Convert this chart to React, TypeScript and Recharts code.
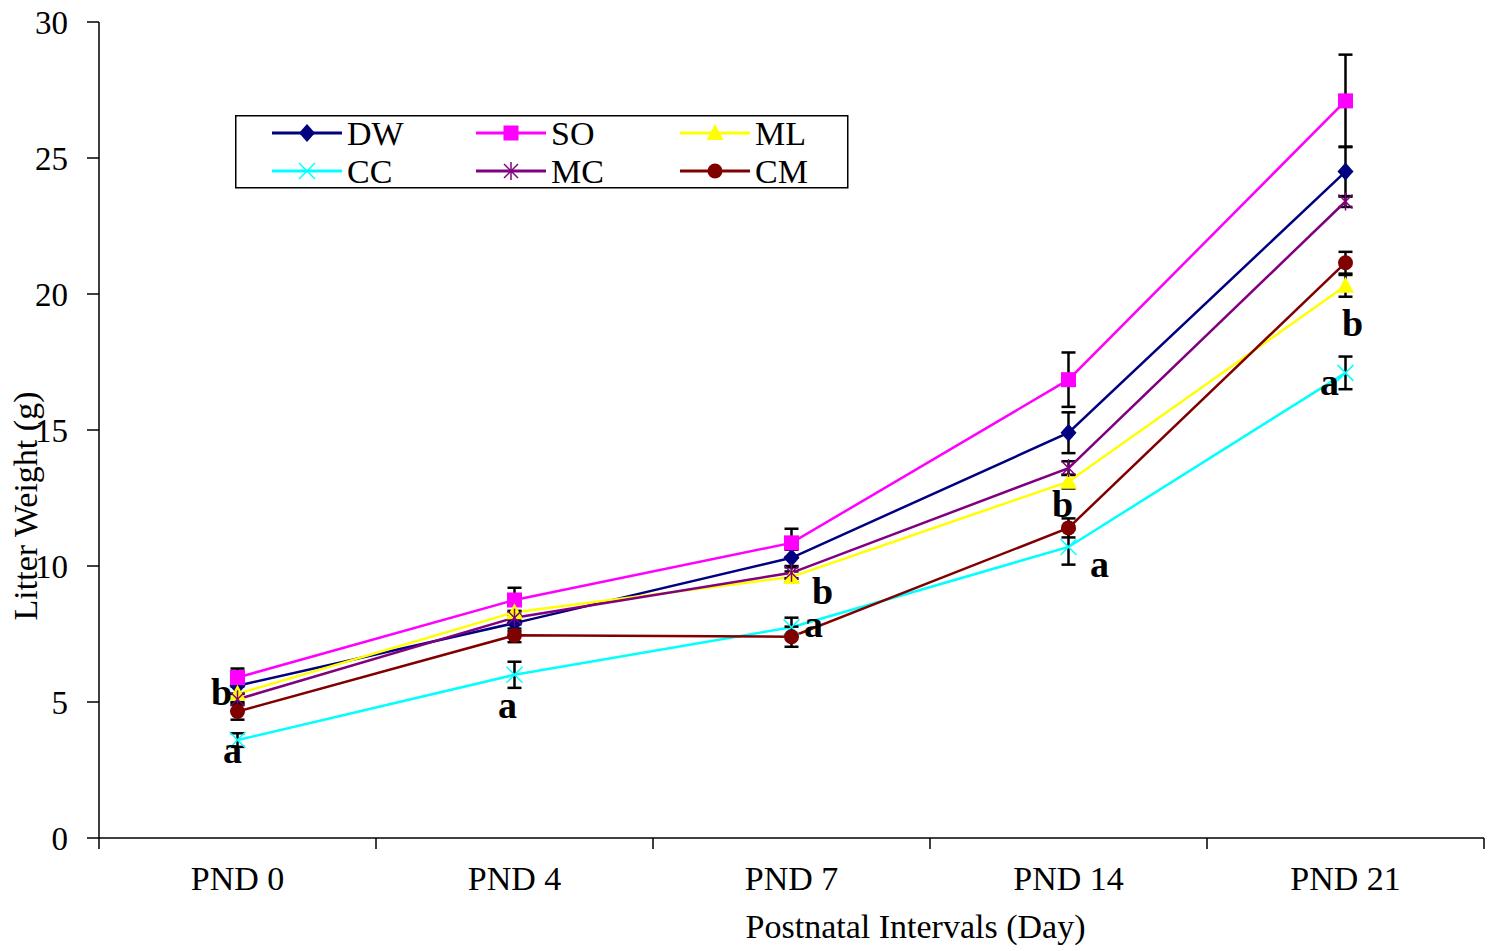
import { ErrorBar, LabelList, Legend, Line, LineChart, XAxis, YAxis } from "recharts";

const days = ["PND 0", "PND 4", "PND 7", "PND 14", "PND 21"];

// mean litter weight (g) per group
const dw = [5.6, 7.9, 10.3, 14.9, 24.5];
const so = [5.9, 8.75, 10.85, 16.85, 27.1];
const ml = [5.3, 8.3, 9.6, 13.1, 20.3];
const cc = [3.6, 6.0, 7.75, 10.7, 17.1];
const mc = [5.1, 8.1, 9.75, 13.6, 23.4];
const cm = [4.65, 7.45, 7.4, 11.4, 21.15];

// standard error per group
const dwErr = [0.3, 0.3, 0.3, 0.75, 0.92];
const soErr = [0.33, 0.45, 0.52, 1.0, 1.7];
const mlErr = [0.3, 0.3, 0.2, 0.25, 0.4];
const ccErr = [0.25, 0.48, 0.35, 0.65, 0.6];
const mcErr = [0.2, 0.25, 0.2, 0.25, 0.2];
const cmErr = [0.3, 0.25, 0.37, 0.35, 0.4];

// significance letters
const mlLetters = ["b", "", "b", "b", "b"];
const ccLetters = ["a", "a", "a", "a", "a"];

const yTicks = [0, 5, 10, 15, 20, 25, 30];
const xTicks = [0, 0.5, 1, 1.5, 2, 2.5, 3, 3.5, 4, 4.5, 5];

const rows = days.map((day, i) => ({
    pos: i + 0.5,
    day,
    DW: dw[i], SO: so[i], ML: ml[i], CC: cc[i], MC: mc[i], CM: cm[i],
    DWErr: dwErr[i], SOErr: soErr[i], MLErr: mlErr[i],
    CCErr: ccErr[i], MCErr: mcErr[i], CMErr: cmErr[i],
    mlLetter: mlLetters[i], ccLetter: ccLetters[i],
}));

type Kind = "diamond" | "square" | "triangle" | "cross" | "star" | "circle";

const series: { key: string; color: string; kind: Kind }[] = [
    { key: "DW", color: "#000080", kind: "diamond" },
    { key: "SO", color: "#FF00FF", kind: "square" },
    { key: "ML", color: "#FFFF00", kind: "triangle" },
    { key: "CC", color: "#00FFFF", kind: "cross" },
    { key: "MC", color: "#800080", kind: "star" },
    { key: "CM", color: "#800000", kind: "circle" },
];

const serif = '"Liberation Serif", "Times New Roman", serif';

// letter placement relative to the point (dx, baseline dy)
const mlLetterShift = [[-16, 11], [0, 0], [31, 27], [-6, 35], [7, 50]];
const ccLetterShift = [[-5, 23], [-7, 43], [22, 10], [31, 30], [-16, 22]];

const Marker = ({ kind, cx, cy, color }: { kind: Kind; cx: number; cy: number; color: string }) => {
    switch (kind) {
        case "diamond":
            return <polygon points={`${cx},${cy - 9} ${cx + 8},${cy} ${cx},${cy + 9} ${cx - 8},${cy}`} fill={color} />;
        case "square":
            return <rect x={cx - 7.5} y={cy - 7.5} width={15} height={15} fill={color} />;
        case "triangle":
            return <polygon points={`${cx},${cy - 9} ${cx + 8.5},${cy + 7} ${cx - 8.5},${cy + 7}`} fill={color} />;
        case "cross":
            return (
                <g stroke={color} strokeWidth={1.5}>
                    <line x1={cx - 8} y1={cy - 8} x2={cx + 8} y2={cy + 8} />
                    <line x1={cx - 8} y1={cy + 8} x2={cx + 8} y2={cy - 8} />
                </g>
            );
        case "star":
            return (
                <g stroke={color} strokeWidth={1.5}>
                    <line x1={cx - 7} y1={cy - 7} x2={cx + 7} y2={cy + 7} />
                    <line x1={cx - 7} y1={cy + 7} x2={cx + 7} y2={cy - 7} />
                    <line x1={cx} y1={cy - 9} x2={cx} y2={cy + 9} />
                </g>
            );
        default:
            return <circle cx={cx} cy={cy} r={7.5} fill={color} />;
    }
};

const DayTick = (props: any) => {
    const { x, y, payload } = props;
    const v = payload.value as number;
    if (Number.isInteger(v)) {
        return <line x1={x} x2={x} y1={y} y2={y + 11} stroke="#000" strokeWidth={1.5} />;
    }
    return (
        <text x={x} y={y + 52} textAnchor="middle" fontSize={34} fontFamily={serif} fill="#000">
            {days[Math.floor(v)]}
        </text>
    );
};

const letterContent = (shift: number[][]) => (props: any) => {
    const { x, y, value, index } = props;
    if (!value) return null;
    const [dx, dy] = shift[index] ?? [0, 0];
    return (
        <text x={x + dx} y={y + dy} textAnchor="middle" fontSize={38} fontWeight="bold" fontFamily={serif} fill="#000">
            {value}
        </text>
    );
};

const LegendBox = () => (
    <svg width={614} height={74}>
        <rect x={0.75} y={0.75} width={612} height={72} fill="#fff" stroke="#000" strokeWidth={1.5} />
        {series.map((s, i) => {
            const col = i % 3;
            const row = Math.floor(i / 3);
            const x0 = 37 + col * 204;
            const ly = 18 + row * 38;
            return (
                <g key={s.key}>
                    <line x1={x0} x2={x0 + 70} y1={ly} y2={ly} stroke={s.color} strokeWidth={3} />
                    <Marker kind={s.kind} cx={x0 + 35} cy={ly} color={s.color} />
                    <text x={x0 + 75} y={ly + 12} fontSize={34} fontFamily={serif} fill="#000">{s.key}</text>
                </g>
            );
        })}
    </svg>
);

export default function App() {
    return (
        <div style={{ position: "absolute", left: 0, top: 0, background: "#fff" }}>
            <LineChart width={1497} height={951} data={rows} margin={{ top: 22, right: 13, bottom: 0, left: 0 }}>
                <XAxis
                    dataKey="pos"
                    type="number"
                    domain={[0, 5]}
                    ticks={xTicks}
                    interval={0}
                    height={113}
                    tickSize={0}
                    tickMargin={0}
                    tickLine={false}
                    tick={<DayTick />}
                    axisLine={{ stroke: "#000", strokeWidth: 1.5 }}
                    label={{
                        content: (p: any) => {
                            const vb = p.viewBox;
                            return (
                                <text x={vb.x + vb.width / 2 + 124} y={vb.y + 100} textAnchor="middle" fontSize={34} fontFamily={serif} fill="#000">
                                    Postnatal Intervals (Day)
                                </text>
                            );
                        },
                    }}
                />
                <YAxis
                    type="number"
                    domain={[0, 30]}
                    ticks={yTicks}
                    interval={0}
                    width={99}
                    tickSize={12}
                    tickMargin={19}
                    tick={{ fontSize: 33, fontFamily: serif, fill: "#000" }}
                    tickLine={{ stroke: "#000", strokeWidth: 1.5 }}
                    axisLine={{ stroke: "#000", strokeWidth: 1.5 }}
                    label={{
                        content: (p: any) => {
                            const vb = p.viewBox;
                            const cy = vb.y + vb.height / 2 + 76;
                            return (
                                <text x={37} y={cy} transform={`rotate(-90, 37, ${cy})`} textAnchor="middle" fontSize={34} fontFamily={serif} fill="#000">
                                    Litter Weight (g)
                                </text>
                            );
                        },
                    }}
                />
                <Legend
                    layout="vertical"
                    align="center"
                    verticalAlign="middle"
                    width={614}
                    height={74}
                    wrapperStyle={{ left: 235, top: 115, width: 614, height: 74 }}
                    content={() => <LegendBox />}
                />
                {series.map((s) => (
                    <Line
                        key={s.key}
                        dataKey={s.key}
                        type="linear"
                        stroke={s.color}
                        strokeWidth={2.5}
                        isAnimationActive={false}
                        dot={(p: any) => <Marker key={`${s.key}-${p.index}`} kind={s.kind} cx={p.cx} cy={p.cy} color={s.color} />}
                        activeDot={false}
                    >
                        <ErrorBar dataKey={`${s.key}Err`} direction="y" width={7} stroke="#000" strokeWidth={2.5} isAnimationActive={false} />
                        {s.key === "ML" && <LabelList dataKey="mlLetter" content={letterContent(mlLetterShift)} />}
                        {s.key === "CC" && <LabelList dataKey="ccLetter" content={letterContent(ccLetterShift)} />}
                    </Line>
                ))}
            </LineChart>
        </div>
    );
}
